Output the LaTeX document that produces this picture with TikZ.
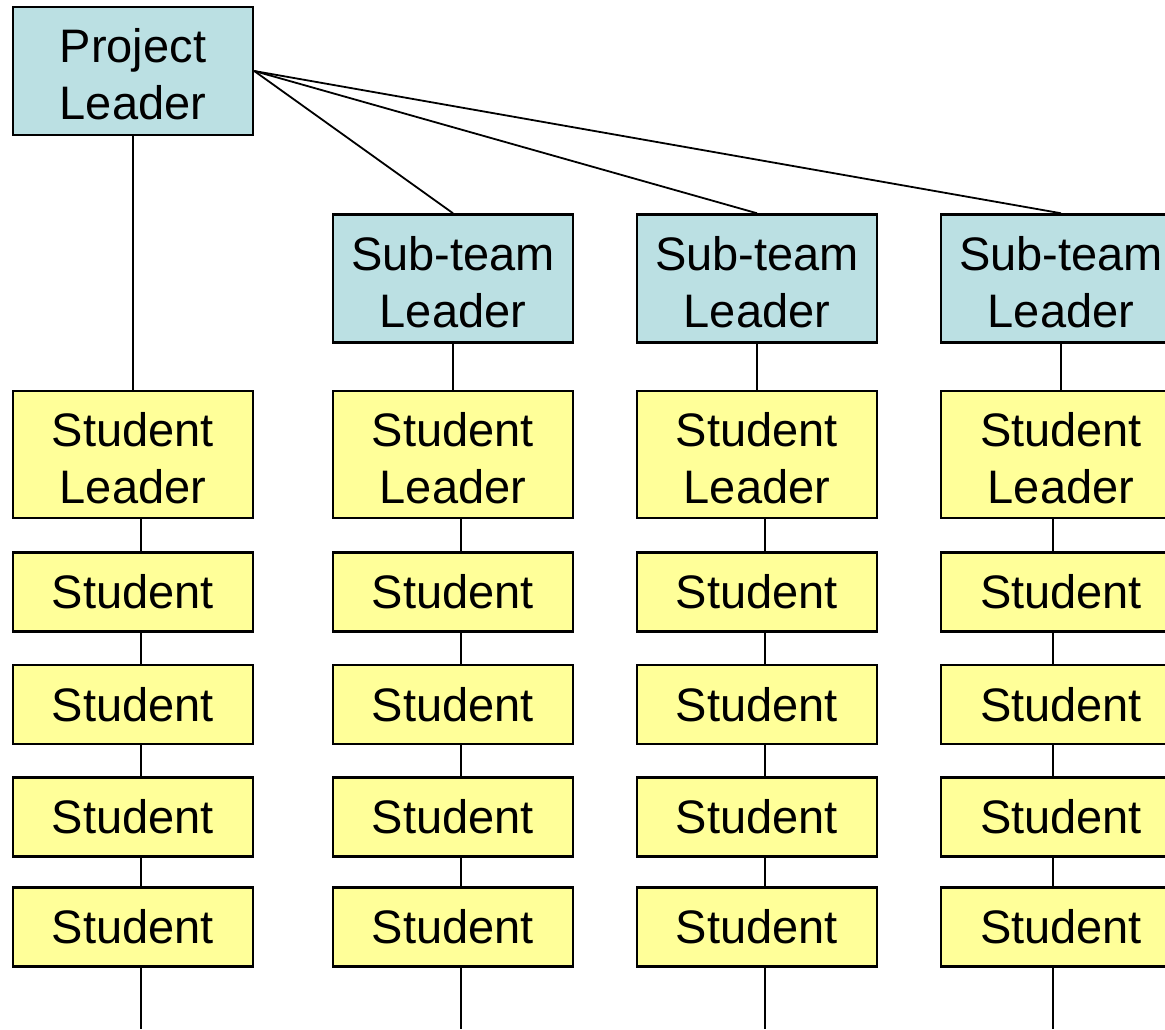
\documentclass[tikz,border=0pt]{standalone}
\usepackage{fontspec}
\setmainfont{Liberation Sans}
\definecolor{leadblue}{HTML}{BBE0E3}
\definecolor{studyellow}{HTML}{FFFF99}
\begin{document}
\begin{tikzpicture}[x=1pt,y=-1pt,
  box/.style={draw=black, line width=2.5pt, minimum width=240pt, inner sep=0pt,
    align=center, font=\fontsize{47}{57}\selectfont},
  leadbox/.style={box, fill=leadblue, minimum height=128pt, text height=97pt, text depth=0pt},
  sleadbox/.style={box, fill=studyellow, minimum height=127pt, text height=97pt, text depth=0pt},
  studbox/.style={box, fill=studyellow, minimum height=79pt},
  conn/.style={draw=black, line width=1.8pt}]
\useasboundingbox (0,0) rectangle (1165,1029);
\clip (0,0) rectangle (1165,1029);
% leaders
\node[leadbox] (pl) at (133,71) {Project\\Leader};
\node[leadbox] (st2) at (453,278.5) {Sub-team\\Leader};
\node[leadbox] (st3) at (757,278.5) {Sub-team\\Leader};
\node[leadbox] (st4) at (1061,278.5) {Sub-team\\Leader};
% student leaders
\node[sleadbox] (sl1) at (133,454.5) {Student\\Leader};
\node[sleadbox] (sl2) at (453,454.5) {Student\\Leader};
\node[sleadbox] (sl3) at (757,454.5) {Student\\Leader};
\node[sleadbox] (sl4) at (1061,454.5) {Student\\Leader};
% students
\foreach \c/\x in {1/133,2/453,3/757,4/1061}{
  \node[studbox] (s\c1) at (\x,592) {Student};
  \node[studbox] (s\c2) at (\x,704.5) {Student};
  \node[studbox] (s\c3) at (\x,817) {Student};
  \node[studbox] (s\c4) at (\x,927) {Student};
}
% end coordinates
\coordinate (e1) at (141,1029);
\coordinate (e2) at (461,1029);
\coordinate (e3) at (765,1029);
\coordinate (e4) at (1053,1029);
% connectors
\draw[conn] (pl.south) -- (sl1.north);
\foreach \c in {2,3,4}{
  \draw[conn] (pl.east) -- (st\c.north);
  \draw[conn] (st\c.south) -- (sl\c.north);
}
\foreach \c/\d in {1/8,2/8,3/8,4/-8}{
  \draw[conn] ([xshift=\d pt]sl\c.south) -- ([xshift=\d pt]s\c1.north);
  \draw[conn] ([xshift=\d pt]s\c1.south) -- ([xshift=\d pt]s\c2.north);
  \draw[conn] ([xshift=\d pt]s\c2.south) -- ([xshift=\d pt]s\c3.north);
  \draw[conn] ([xshift=\d pt]s\c3.south) -- ([xshift=\d pt]s\c4.north);
  \draw[conn] ([xshift=\d pt]s\c4.south) -- (e\c);
}
\end{tikzpicture}
\end{document}
